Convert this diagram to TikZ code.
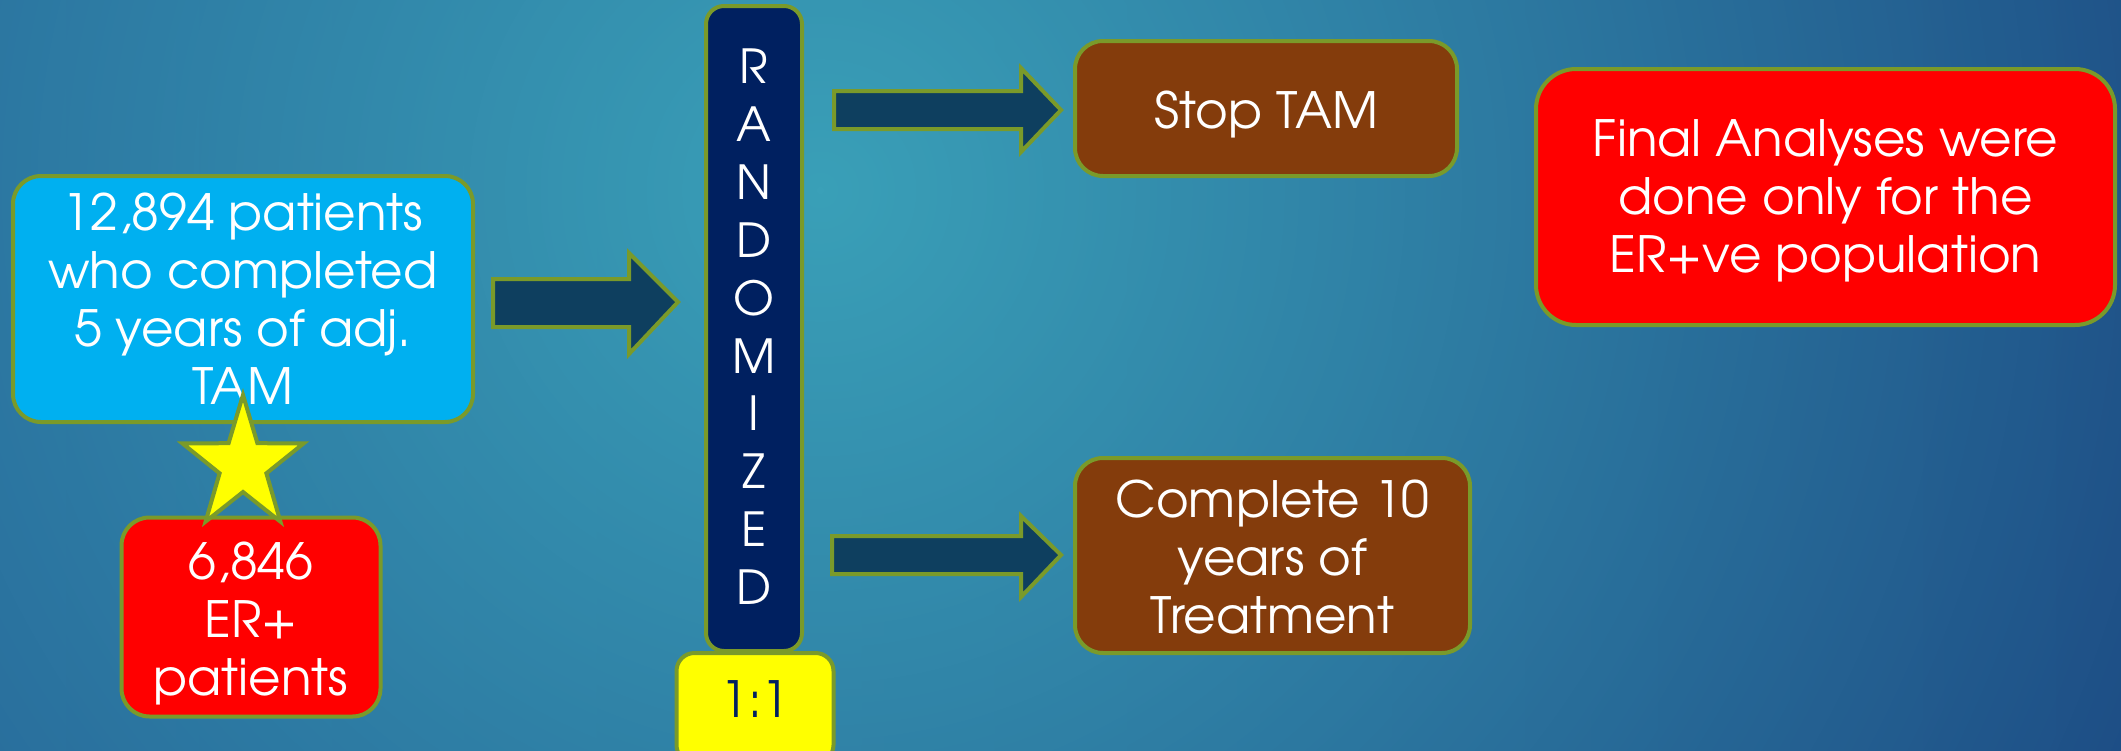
\documentclass[tikz,border=0pt]{standalone}
\usepackage{fontspec}
\setmainfont{texgyreadventor-regular.otf}
\usetikzlibrary{fadings}
\definecolor{bgleft}{HTML}{1C4888}
\definecolor{bgright}{HTML}{163878}
\definecolor{bgteal}{HTML}{3AA0B8}
\definecolor{edge}{HTML}{7A9A2A}
\definecolor{skyfill}{HTML}{00B0F0}
\definecolor{redfill}{HTML}{FF0000}
\definecolor{brownfill}{HTML}{843C0C}
\definecolor{navyfill}{HTML}{002060}
\definecolor{yellowfill}{HTML}{FFFF00}
\definecolor{arrowfill}{HTML}{0E3F5F}
\tikzfading[name=glow, inner color=transparent!0, outer color=transparent!100]
\newcommand{\lowered}[2]{\raisebox{#1}[\height][\depth]{#2}}
\tikzset{
  box/.style={rectangle, rounded corners=28pt, draw=edge, line width=4pt,
    text=white, align=center, inner sep=0pt, font=\fontsize{50}{58}\selectfont},
  blockarrow/.style={fill=arrowfill, draw=edge, line width=4pt, line join=miter},
  starshape/.style={fill=yellowfill, draw=edge, line width=4pt, line join=miter}
}
\begin{document}
\begin{tikzpicture}[x=1pt,y=-1pt]
\useasboundingbox (0,0) rectangle (2121,750);
% background
\fill[left color=bgleft, right color=bgright] (0,0) rectangle (2121,750);
\begin{scope}
\clip (0,0) rectangle (2121,750);
\fill[bgteal, path fading=glow] (820,190) circle[radius=1800pt];
\end{scope}

% boxes
\node[box, fill=skyfill, minimum width=460pt, minimum height=246pt] (pop) at (243,299)
  {\lowered{-7pt}{\begin{tabular}{@{}c@{}}12,894 patients\\who completed\\5 years of adj.\\TAM\end{tabular}}};
\node[box, fill=redfill, minimum width=259pt, minimum height=199pt] (er) at (251,617)
  {\lowered{-9pt}{\begin{tabular}{@{}c@{}}6,846\\ER+\\patients\end{tabular}}};
\node[box, fill=navyfill, rounded corners=18pt, minimum width=96pt, minimum height=645pt,
  font=\fontsize{47}{57.9}\selectfont] (rand) at (754,328.5)
  {\lowered{-4pt}{\begin{tabular}{@{}c@{}}R\\A\\N\\D\\O\\M\\I\\Z\\E\\D\end{tabular}}};
\node[box, fill=yellowfill, rounded corners=18pt, text=navyfill, minimum width=157pt,
  minimum height=110pt] (ratio) at (755,708) {\lowered{9pt}{1:1}};
\node[box, fill=brownfill, minimum width=382pt, minimum height=135pt] (stop) at (1266,108.5)
  {\lowered{-6pt}{Stop TAM}};
\node[box, fill=brownfill, minimum width=395pt, minimum height=195pt] (comp) at (1272.5,555.5)
  {\lowered{-8pt}{\begin{tabular}{@{}c@{}}Complete 10\\years of\\Treatment\end{tabular}}};
\node[box, fill=redfill, rounded corners=40pt, minimum width=579pt, minimum height=256pt] (final) at (1825.5,197)
  {\lowered{-6pt}{\begin{tabular}{@{}c@{}}Final Analyses were\\done only for the\\ER+ve population\end{tabular}}};

% block arrows
\draw[blockarrow] (493,279) -- (629,279) -- (629,253) -- (678,302) -- (629,354) -- (629,327) -- (493,327) -- cycle;
\draw[blockarrow] (834,91) -- (1021,91) -- (1021,68) -- (1061,110) -- (1021,152) -- (1021,129) -- (834,129) -- cycle;
\draw[blockarrow] (832,536) -- (1021,536) -- (1021,516) -- (1061,555) -- (1021,597) -- (1021,574) -- (832,574) -- cycle;

% star
\draw[starshape] (243,395) -- (257.4,443.2) -- (303.6,443.4) -- (266.4,473.3) -- (280.4,521.6)
  -- (243,492) -- (205.6,521.6) -- (219.6,473.3) -- (182.4,443.4) -- (228.6,443.2) -- cycle;
\end{tikzpicture}
\end{document}
